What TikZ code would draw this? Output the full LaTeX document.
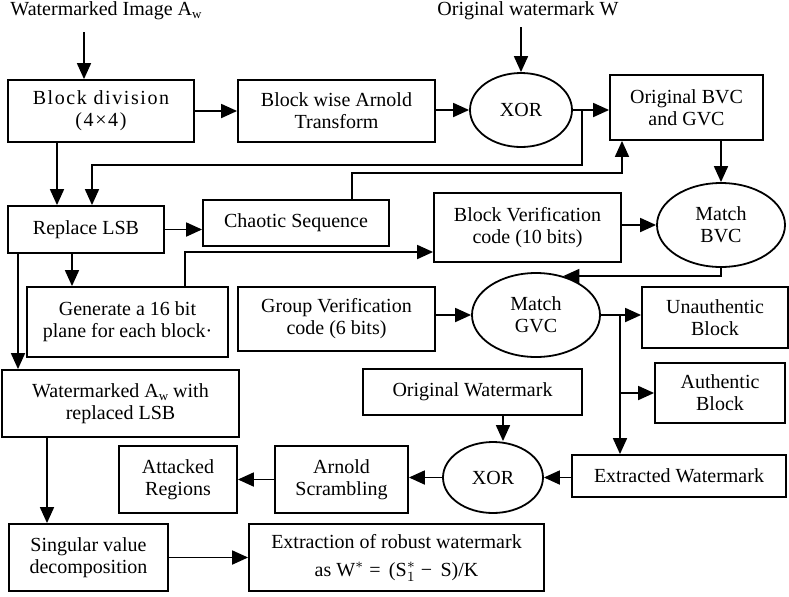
\documentclass[tikz,border=0pt]{standalone}
\usepackage{fontspec}
\setmainfont{Liberation Serif}
\usetikzlibrary{shapes.geometric,arrows.meta}
\newcommand{\subw}{\raisebox{-0.35ex}{\fontsize{6.5}{6.5}\selectfont w}}
\begin{document}
\begin{tikzpicture}[x=0.5pt,y=-0.5pt,
  font=\fontsize{10}{11}\selectfont,
  line width=0.9pt,
  box/.style={draw,rectangle,align=center,inner sep=1pt},
  ell/.style={draw,ellipse,align=center,inner sep=0pt},
  sz/.style 2 args={minimum width=#1*0.5pt,minimum height=#2*0.5pt},
  arr/.style={-{Triangle[length=8pt,width=7pt]}}]
\useasboundingbox (0,0) rectangle (789,596);
% labels
\node (lblA) at (106,11) {Watermarked Image A\subw};
\node (lblW) at (528,11) {Original watermark W};
\coordinate (inA) at (84,32);
\coordinate (inW) at (521,27);
% nodes
\node[box,sz={186}{62}] (blockdiv) at (101,111) {{\addfontfeature{LetterSpace=8}Block division}\\{\addfontfeature{LetterSpace=8}(4×4)}};
\node[box,sz={197}{62}] (arnold) at (336.5,111) {Block wise Arnold\\Transform};
\node[ell,sz={102}{74}] (xor1) at (521,110) {XOR};
\node[box,sz={153}{65}] (bvc) at (686.5,107.5) {Original BVC\\and GVC};
\node[box,sz={156}{47}] (replace) at (86,229.5) {Replace LSB};
\node[box,sz={186}{46}] (chaotic) at (296,223) {Chaotic Sequence};
\node[box,sz={187}{69}] (blockver) at (527.5,227.5) {Block Verification\\code (10 bits)};
\node[ell,sz={128}{84}] (matchbvc) at (721,225) {Match\\BVC};
\node[box,sz={201}{70}] (generate) at (127.5,322) {Generate a 16 bit\\plane for each block·};
\node[box,sz={197}{64}] (groupver) at (336.5,319) {Group Verification\\code (6 bits)};
\node[ell,sz={128}{84}] (matchgvc) at (536,315) {Match\\GVC};
\node[box,sz={146}{61}] (unauth) at (715,317.5) {Unauthentic\\Block};
\node[box,sz={237}{67}] (wmlsb) at (120.5,403.5) {Watermarked A\subw{} with\\replaced LSB};
\node[box,sz={219}{46}] (origwm) at (472.5,392) {Original Watermark};
\node[box,sz={130}{60}] (auth) at (720,393) {Authentic\\Block};
\node[box,sz={214}{42}] (extracted) at (679,476) {Extracted Watermark};
\node[ell,sz={100}{71}] (xor2) at (493,477.5) {XOR};
\node[box,sz={133}{67}] (arnoldscr) at (341.5,479.5) {Arnold\\Scrambling};
\node[box,sz={118}{67}] (attacked) at (178,479.5) {Attacked\\Regions};
\node[box,sz={159}{67}] (svd) at (88.5,557.5) {Singular value\\decomposition};
\node[box,sz={295}{67}] (extraction) at (396.5,557.5) {Extraction of robust watermark\\[3pt]as W$^{*}$ = \,($\mathrm{S}^{*}_{1}$ −\, S)/K};
% junctions
\coordinate (j1) at (582,110);
\coordinate (j2) at (620,315);
% connectors
\draw[arr] (inA) -- (blockdiv.north -| inA);
\draw[arr] (inW) -- (xor1.north);
\draw[arr] (blockdiv) -- (arnold);
\draw[arr] (arnold.east |- xor1.west) -- (xor1.west);
\draw[arr] (xor1.east) -- (xor1.east -| bvc.west);
\draw[arr] (j1) |- (92,165) -- (replace.north -| 92,0);
\draw[arr] (blockdiv.south -| 57,0) -- (replace.north -| 57,0);
\draw[arr] (chaotic.north -| 352,0) |- (622,173) -- (bvc.south -| 622,0);
\draw[arr] (bvc.south -| matchbvc.north) -- (matchbvc.north);
\draw[arr] (replace.east) -- (replace.east -| chaotic.west);
\draw[arr] (replace.south -| 72,0) -- (generate.north -| 72,0);
\draw[arr] (replace.south -| 18,0) -- (wmlsb.north -| 18,0);
\draw[arr] (generate.north -| 185,0) |- (blockver.west |- 0,252);
\draw[arr] (blockver.east |- matchbvc.west) -- (matchbvc.west);
\draw[arr] (matchbvc.south) |- (matchgvc.55);
\draw[arr] (groupver.east |- matchgvc.west) -- (matchgvc.west);
\draw[arr] (matchgvc.east) -- (matchgvc.east -| unauth.west);
\draw[arr] (j2) -- (extracted.north -| j2);
\draw[arr] (j2 |- auth.west) -- (auth.west);
\draw[arr] (extracted.west |- xor2.east) -- (xor2.east);
\draw[arr] (origwm.south -| 503,0) -- (xor2.north -| 503,0);
\draw[arr] (xor2.west) -- (xor2.west -| arnoldscr.east);
\draw[arr] (arnoldscr) -- (attacked);
\draw[arr] (wmlsb.south -| 47,0) -- (svd.north -| 47,0);
\draw[arr] (svd) -- (extraction);
\end{tikzpicture}
\end{document}
